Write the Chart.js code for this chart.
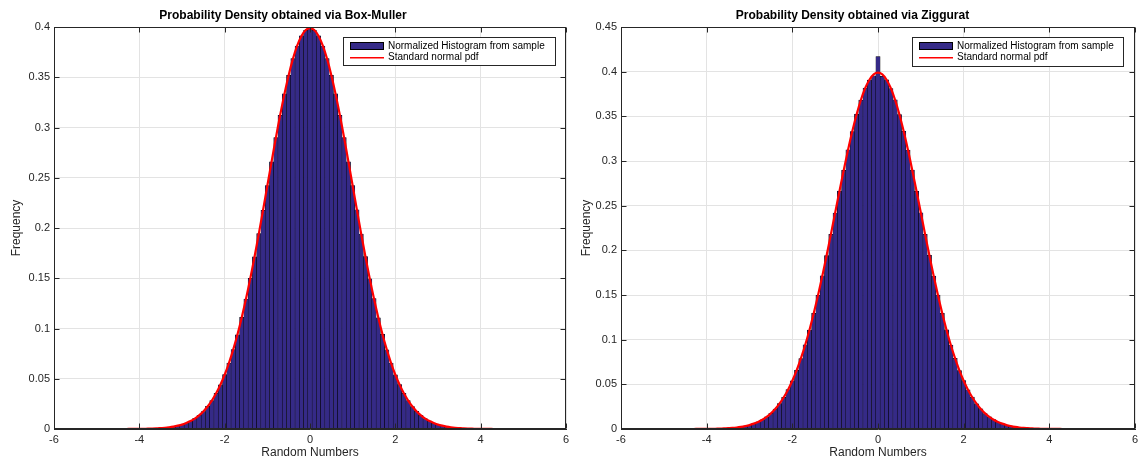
<!DOCTYPE html>
<html>
<head>
<meta charset="utf-8">
<script src="https://cdn.jsdelivr.net/npm/chart.js@4.4.1/dist/chart.umd.min.js"></script>
<style>
  body { margin: 0; background: #fff; }
  .wrap { display: flex; width: 1140px; height: 465px; }
  canvas { display: block; }
</style>
</head>
<body>
<div class="wrap">
  <canvas id="boxMuller" width="570" height="465"></canvas>
  <canvas id="ziggurat" width="570" height="465"></canvas>
</div>
<script>
// histogram bin centres (bin width 0.1)
const binCenters = [
  -5.6, -5.5, -5.4, -5.3, -5.2, -5.1, -5.0, -4.9, -4.8, -4.7, -4.6, -4.5, -4.4, -4.3, -4.2, -4.1,
  -4.0, -3.9, -3.8, -3.7, -3.6, -3.5, -3.4, -3.3, -3.2, -3.1, -3.0, -2.9, -2.8, -2.7, -2.6, -2.5,
  -2.4, -2.3, -2.2, -2.1, -2.0, -1.9, -1.8, -1.7, -1.6, -1.5, -1.4, -1.3, -1.2, -1.1, -1.0, -0.9,
  -0.8, -0.7, -0.6, -0.5, -0.4, -0.3, -0.2, -0.1, 0.0, 0.1, 0.2, 0.3, 0.4, 0.5, 0.6, 0.7,
  0.8, 0.9, 1.0, 1.1, 1.2, 1.3, 1.4, 1.5, 1.6, 1.7, 1.8, 1.9, 2.0, 2.1, 2.2, 2.3,
  2.4, 2.5, 2.6, 2.7, 2.8, 2.9, 3.0, 3.1, 3.2, 3.3, 3.4, 3.5, 3.6, 3.7, 3.8, 3.9,
  4.0, 4.1, 4.2, 4.3, 4.4, 4.5, 4.6, 4.7, 4.8, 4.9, 5.0, 5.1, 5.2, 5.3, 5.4, 5.5, 5.6
];

const boxMullerHeights = [
  0, 0, 0, 0, 0, 0, 0, 0, 0, 0, 0, 0, 0, 0, 0.0001, 0.0001,
  0.0001, 0.0002, 0.0003, 0.0004, 0.0006, 0.0009, 0.0012, 0.0018, 0.0024, 0.0033, 0.0045, 0.0060, 0.0078, 0.0105, 0.0137, 0.0174,
  0.0225, 0.0282, 0.0356, 0.0439, 0.0541, 0.0655, 0.0791, 0.0938, 0.1111, 0.1293, 0.1499, 0.1712, 0.1944, 0.2177, 0.2423, 0.2658,
  0.2899, 0.3120, 0.3335, 0.3518, 0.3686, 0.3811, 0.3912, 0.3967, 0.3992, 0.3968, 0.3913, 0.3811, 0.3685, 0.3519, 0.3334, 0.3121,
  0.2899, 0.2659, 0.2422, 0.2181, 0.1940, 0.1716, 0.1495, 0.1297, 0.1107, 0.0942, 0.0788, 0.0657, 0.0539, 0.0441, 0.0354, 0.0284,
  0.0223, 0.0176, 0.0135, 0.0104, 0.0080, 0.0059, 0.0044, 0.0032, 0.0024, 0.0017, 0.0012, 0.0009, 0.0006, 0.0004, 0.0003, 0.0002,
  0.0001, 0.0001, 0.0001, 0, 0, 0, 0, 0, 0, 0, 0, 0, 0, 0, 0, 0, 0
];

const zigguratHeights = [
  0, 0, 0, 0, 0, 0, 0, 0, 0, 0, 0, 0, 0, 0, 0.0001, 0.0001,
  0.0001, 0.0002, 0.0003, 0.0004, 0.0006, 0.0008, 0.0012, 0.0017, 0.0025, 0.0034, 0.0044, 0.0061, 0.0079, 0.0103, 0.0137, 0.0176,
  0.0223, 0.0284, 0.0354, 0.0441, 0.0538, 0.0657, 0.0789, 0.0941, 0.1108, 0.1296, 0.1495, 0.1715, 0.1940, 0.2180, 0.2418, 0.2663,
  0.2895, 0.3125, 0.3330, 0.3523, 0.3681, 0.3816, 0.3907, 0.3952, 0.4170, 0.3948, 0.3908, 0.3812, 0.3684, 0.3520, 0.3333, 0.3122,
  0.2898, 0.2660, 0.2421, 0.2178, 0.1943, 0.1713, 0.1498, 0.1294, 0.1110, 0.0939, 0.0791, 0.0655, 0.0541, 0.0439, 0.0356, 0.0282,
  0.0225, 0.0174, 0.0136, 0.0105, 0.0078, 0.0060, 0.0045, 0.0033, 0.0023, 0.0017, 0.0012, 0.0009, 0.0006, 0.0004, 0.0003, 0.0002,
  0.0001, 0.0001, 0.0001, 0, 0, 0, 0, 0, 0, 0, 0, 0, 0, 0, 0, 0, 0
];

// standard normal pdf, sampled from -5 to 5 (same x positions as bins 6..106)
const pdfX = binCenters.slice(6, 107);
const pdfY = [
  0, 0, 0, 0, 0, 0, 0, 0, 0.0001, 0.0001, 0.0001, 0.0002, 0.0003, 0.0004, 0.0006, 0.0009,
  0.0012, 0.0017, 0.0024, 0.0033, 0.0044, 0.0060, 0.0079, 0.0104, 0.0136, 0.0175, 0.0224, 0.0283, 0.0355, 0.0440, 0.0540, 0.0656,
  0.0790, 0.0940, 0.1109, 0.1295, 0.1497, 0.1714, 0.1942, 0.2179, 0.2420, 0.2661, 0.2897, 0.3123, 0.3332, 0.3521, 0.3683, 0.3814,
  0.3910, 0.3970, 0.3989, 0.3970, 0.3910, 0.3814, 0.3683, 0.3521, 0.3332, 0.3123, 0.2897, 0.2661, 0.2420, 0.2179, 0.1942, 0.1714,
  0.1497, 0.1295, 0.1109, 0.0940, 0.0790, 0.0656, 0.0540, 0.0440, 0.0355, 0.0283, 0.0224, 0.0175, 0.0136, 0.0104, 0.0079, 0.0060,
  0.0044, 0.0033, 0.0024, 0.0017, 0.0012, 0.0009, 0.0006, 0.0004, 0.0003, 0.0002, 0.0001, 0.0001, 0.0001, 0, 0, 0,
  0, 0, 0, 0, 0
];

const xTicks = [-6, -4, -2, 0, 2, 4, 6];
const yTicksBoxMuller = [0, 0.05, 0.1, 0.15, 0.2, 0.25, 0.3, 0.35, 0.4];
const yTicksZiggurat = [0, 0.05, 0.1, 0.15, 0.2, 0.25, 0.3, 0.35, 0.4, 0.45];

const FONT = "'Liberation Sans', Arial, Helvetica, sans-serif";
const AXIS_COLOR = '#262626';
const BAR_COLOR = '#352a87';
const PDF_COLOR = '#ff0000';
Chart.defaults.font.family = FONT;

// box round the axes, with inward tick marks on all four sides (matlab style)
const frameTicks = {
  id: 'frameTicks',
  afterDatasetsDraw(chart) {
    const { ctx, chartArea: a, scales: { x, y } } = chart;
    const L = Math.round(a.left) + 0.5, R = Math.round(a.right) - 0.5;
    const T = Math.round(a.top) + 0.5, B = Math.round(a.bottom) - 0.5;
    ctx.save();
    ctx.strokeStyle = AXIS_COLOR;
    ctx.lineWidth = 1;
    ctx.strokeRect(L, T, R - L, B - T);
    ctx.beginPath();
    x.ticks.forEach(t => {
      const px = Math.round(x.getPixelForValue(t.value)) + 0.5;
      ctx.moveTo(px, B); ctx.lineTo(px, B - 5);
      ctx.moveTo(px, T); ctx.lineTo(px, T + 5);
    });
    y.ticks.forEach(t => {
      const py = Math.round(y.getPixelForValue(t.value)) + 0.5;
      ctx.moveTo(L, py); ctx.lineTo(L + 5, py);
      ctx.moveTo(R, py); ctx.lineTo(R - 5, py);
    });
    ctx.stroke();
    ctx.restore();
  }
};

// legend drawn inside the plot, top right
const boxLegend = {
  id: 'boxLegend',
  afterDraw(chart, args, opts) {
    const { ctx } = chart;
    const bar = chart.data.datasets[1], line = chart.data.datasets[0];
    ctx.save();
    ctx.fillStyle = '#fff';
    ctx.fillRect(opts.x, opts.y, opts.w, opts.h);
    ctx.strokeStyle = AXIS_COLOR;
    ctx.lineWidth = 1;
    ctx.strokeRect(opts.x + 0.5, opts.y + 0.5, opts.w, opts.h);
    // histogram swatch
    ctx.fillStyle = BAR_COLOR;
    ctx.fillRect(opts.x + 7, opts.y + 5, 34, 8);
    ctx.strokeStyle = '#000';
    ctx.strokeRect(opts.x + 7.5, opts.y + 5.5, 33, 7);
    // pdf swatch
    ctx.fillStyle = PDF_COLOR;
    ctx.fillRect(opts.x + 7, opts.y + 20, 34, 1.5);
    ctx.fillStyle = '#000';
    ctx.font = '10px ' + FONT;
    ctx.textBaseline = 'middle';
    ctx.fillText(bar.label, opts.x + 45, opts.y + 9.5);
    ctx.fillText(line.label, opts.x + 45, opts.y + 20.5);
    ctx.restore();
  }
};

function drawHistogram(id, titleText, heights, yMax, yTicks, axisWidth, rightPad, legendBox) {
  new Chart(document.getElementById(id), {
    type: 'bar',
    data: {
      datasets: [
        {
          type: 'line',
          label: 'Standard normal pdf',
          data: pdfX.map((x, i) => ({ x, y: pdfY[i] })),
          borderColor: PDF_COLOR,
          borderWidth: 2.2,
          pointRadius: 0,
          tension: 0.3,
          order: 0
        },
        {
          type: 'bar',
          label: 'Normalized Histogram from sample',
          data: binCenters.map((x, i) => ({ x, y: heights[i] })),
          backgroundColor: BAR_COLOR,
          borderColor: '#000',
          borderWidth: 0.5,
          barPercentage: 1,
          categoryPercentage: 1,
          order: 1
        }
      ]
    },
    options: {
      responsive: false,
      animation: false,
      layout: { padding: { left: 0, right: rightPad, top: 0, bottom: 0 } },
      plugins: {
        legend: { display: false },
        tooltip: { enabled: false },
        title: {
          display: true,
          text: titleText,
          color: '#000',
          font: { size: 12, weight: 'bold' },
          padding: { top: 8, bottom: 4.6 }
        },
        boxLegend: legendBox
      },
      scales: {
        x: {
          type: 'linear',
          min: -6,
          max: 6,
          offset: false,
          afterBuildTicks: s => { s.ticks = xTicks.map(v => ({ value: v })); },
          afterFit: s => { s.height = 36; s.paddingLeft = 0; s.paddingRight = 0; },
          grid: { color: '#e3e3e3', drawTicks: false, offset: false },
          border: { color: AXIS_COLOR },
          ticks: { color: AXIS_COLOR, font: { size: 11 }, padding: 4, maxRotation: 0, callback: v => String(v) },
          title: { display: true, text: 'Random Numbers', color: AXIS_COLOR, font: { size: 12 }, padding: { top: 0, bottom: 5 } }
        },
        y: {
          min: 0,
          max: yMax,
          afterBuildTicks: s => { s.ticks = yTicks.map(v => ({ value: v })); },
          afterFit: s => { s.width = axisWidth; },
          grid: { color: '#e3e3e3', drawTicks: false },
          border: { color: AXIS_COLOR },
          ticks: { color: AXIS_COLOR, font: { size: 11 }, padding: 4, callback: v => String(+v.toFixed(2)) },
          title: { display: true, text: 'Frequency', color: AXIS_COLOR, font: { size: 12 }, padding: { top: 9, bottom: 0 } }
        }
      }
    },
    plugins: [frameTicks, boxLegend]
  });
}

drawHistogram('boxMuller', 'Probability Density obtained via Box-Muller', boxMullerHeights,
  0.4, yTicksBoxMuller, 54, 4, { x: 343, y: 37, w: 212, h: 28 });
drawHistogram('ziggurat', 'Probability Density obtained via Ziggurat', zigguratHeights,
  0.45, yTicksZiggurat, 51, 5, { x: 342, y: 37, w: 211, h: 29 });
</script>
</body>
</html>
